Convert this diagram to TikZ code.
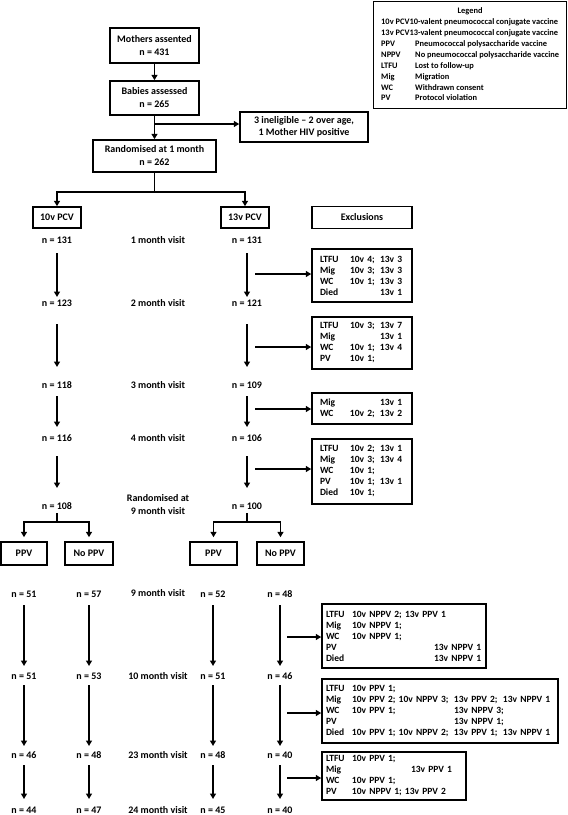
\documentclass[tikz,border=0pt]{standalone}
\usepackage{fontspec}
\setmainfont{Carlito}
\usetikzlibrary{arrows.meta}
\newcommand\excol[2]{\makebox[#1][l]{#2}}
\begin{document}
\begin{tikzpicture}[x=1pt,y=-1pt,
  every node/.style={font=\bfseries\fontsize{10}{13}\selectfont},
  box/.style={draw, line width=1.5pt, inner sep=0pt, align=center},
  exbox/.style={draw, line width=1.5pt, inner ysep=0pt, align=left, font=\bfseries\fontsize{9.5}{11}\selectfont},
  lbl/.style={inner sep=0pt, align=center},
  arr/.style={line width=1.8pt, -{Triangle[length=5.5pt,width=6pt]}},
  ln/.style={line width=1.8pt},
]
\useasboundingbox (0,0) rectangle (568,815);

% legend
\node[draw, line width=1.3pt, anchor=north west, inner sep=0pt, minimum width=193pt, minimum height=107pt,
  font=\bfseries\fontsize{8.4}{10.9}\selectfont] (legend) at (373,1) {%
\begin{tabular}{@{}l@{}}
\multicolumn{1}{@{}c@{}}{Legend}\\
10v PCV10-valent pneumococcal conjugate vaccine\\
13v PCV13-valent pneumococcal conjugate vaccine\\
\excol{34pt}{PPV}Pneumococcal polysaccharide vaccine\\
\excol{34pt}{NPPV}No pneumococcal polysaccharide vaccine\\
\excol{34pt}{LTFU}Lost to follow-up\\
\excol{34pt}{Mig}Migration\\
\excol{34pt}{WC}Withdrawn consent\\
\excol{34pt}{PV}Protocol violation
\end{tabular}};

% top part
\node[box, minimum width=89pt, minimum height=35pt] (mothers) at (154.5,45.5) {Mothers assented\\n = 431};
\node[box, minimum width=89pt, minimum height=34pt] (babies) at (154.5,98) {Babies assessed\\n = 265};
\node[box, minimum width=128pt, minimum height=30pt, font=\bfseries\fontsize{10}{11.5}\selectfont] (inel) at (304,127) {3 ineligible -- 2 over age,\\1 Mother HIV positive};
\node[box, minimum width=123pt, minimum height=32pt] (rand) at (154.5,156) {Randomised at 1 month\\n = 262};

\draw[arr] (mothers) -- (babies);
\draw[arr] (babies) -- (rand);
\coordinate (brA) at (154.5,124);
\draw[arr] (brA) -- (brA -| inel.west);

\node[box, minimum width=48pt, minimum height=21pt] (pcv10) at (57,217.5) {10v PCV};
\node[box, minimum width=48pt, minimum height=21pt] (pcv13) at (245,217.5) {13v PCV};
\node[box, minimum width=100pt, minimum height=22pt] (exh) at (362,217.5) {Exclusions};

\draw[ln] (rand.south) -- ++(0,19) coordinate (rsplit);
\draw[arr] (rsplit) -| (pcv10);
\draw[arr] (rsplit) -| (pcv13);

% rows 1 - 4 months
\node[lbl] (l1) at (57,240) {n = 131};
\node[lbl] (m1) at (158,240) {1 month visit};
\node[lbl] (r1) at (247,240) {n = 131};
\node[lbl] (l2) at (57,303) {n = 123};
\node[lbl] (m2) at (158,303) {2 month visit};
\node[lbl] (r2) at (247,303) {n = 121};
\node[lbl] (l3) at (57,385) {n = 118};
\node[lbl] (m3) at (158,385) {3 month visit};
\node[lbl] (r3) at (247,385) {n = 109};
\node[lbl] (l4) at (57,438) {n = 116};
\node[lbl] (m4) at (158,438) {4 month visit};
\node[lbl] (r4) at (247,438) {n = 106};
\node[lbl] (l5) at (57,506) {n = 108};
\node[lbl] (m5) at (158,504.5) {Randomised at\\9 month visit};
\node[lbl] (r5) at (247,506) {n = 100};

\foreach \a in {l, r}{
  \draw[arr] ([yshift=-13pt]\a1.center) -- ([yshift=6pt]\a2.center);
  \draw[arr] ([yshift=-21pt]\a2.center) -- ([yshift=18pt]\a3.center);
  \draw[arr] ([yshift=-11pt]\a3.center) -- ([yshift=11pt]\a4.center);
  \draw[arr] ([yshift=-18pt]\a4.center) -- ([yshift=18pt]\a5.center);
}

% exclusion boxes 1-4
\node[exbox, minimum height=53pt, text width=84pt, inner xsep=8pt] (ex1) at (362,275.5) {%
\mbox{\excol{30pt}{LTFU}\excol{30pt}{10v 4;}13v 3}\\
\mbox{\excol{30pt}{Mig}\excol{30pt}{10v 3;}13v 3}\\
\mbox{\excol{30pt}{WC}\excol{30pt}{10v 1;}13v 3}\\
\mbox{\excol{60pt}{Died}13v 1}};
\node[exbox, minimum height=52pt, text width=84pt, inner xsep=8pt] (ex2) at (362,343) {%
\mbox{\excol{30pt}{LTFU}\excol{30pt}{10v 3;}13v 7}\\
\mbox{\excol{60pt}{Mig}13v 1}\\
\mbox{\excol{30pt}{WC}\excol{30pt}{10v 1;}13v 4}\\
\mbox{\excol{30pt}{PV}10v 1;}};
\node[exbox, minimum height=31pt, text width=84pt, inner xsep=8pt] (ex3) at (362,408.5) {%
\mbox{\excol{60pt}{Mig}13v 1}\\
\mbox{\excol{30pt}{WC}\excol{30pt}{10v 2;}13v 2}};
\node[exbox, minimum height=65pt, text width=84pt, inner xsep=8pt] (ex4) at (362,471.5) {%
\mbox{\excol{30pt}{LTFU}\excol{30pt}{10v 2;}13v 1}\\
\mbox{\excol{30pt}{Mig}\excol{30pt}{10v 3;}13v 4}\\
\mbox{\excol{30pt}{WC}10v 1;}\\
\mbox{\excol{30pt}{PV}\excol{30pt}{10v 1;}13v 1}\\
\mbox{\excol{30pt}{Died}10v 1;}};

\coordinate (sA) at (255,274);
\coordinate (sB) at (255,347);
\coordinate (sC) at (255,409);
\coordinate (sD) at (255,469);
\draw[arr] (sA) -- (sA -| ex1.west);
\draw[arr] (sB) -- (sB -| ex2.west);
\draw[arr] (sC) -- (sC -| ex3.west);
\draw[arr] (sD) -- (sD -| ex4.west);

% randomisation at 9 months
\node[box, minimum width=46pt, minimum height=23pt] (ppvA) at (24,553.5) {PPV};
\node[box, minimum width=48pt, minimum height=23pt] (nppvA) at (89,553.5) {No PPV};
\node[box, minimum width=47pt, minimum height=23pt] (ppvB) at (213.5,553.5) {PPV};
\node[box, minimum width=47pt, minimum height=23pt] (nppvB) at (280.5,553.5) {No PPV};

\draw[ln] ([yshift=-7pt]l5.center) -- ++(0,9) coordinate (lsplit);
\draw[ln] ([yshift=-7pt]r5.center) -- ++(0,9) coordinate (rsplit2);
\draw[arr, shorten >=4pt] (lsplit) -| (ppvA);
\draw[arr, shorten >=4pt] (lsplit) -| (nppvA);
\draw[arr, shorten >=4pt] (rsplit2) -| (ppvB);
\draw[arr, shorten >=4pt] (rsplit2) -| (nppvB);

% bottom rows
\node[lbl] (a1) at (24,594) {n = 51};
\node[lbl] (b1) at (89,594) {n = 57};
\node[lbl] (v1) at (158,593) {9 month visit};
\node[lbl] (c1) at (213,594) {n = 52};
\node[lbl] (d1) at (280,594) {n = 48};
\node[lbl] (a2) at (24,676) {n = 51};
\node[lbl] (b2) at (89,676) {n = 53};
\node[lbl] (v2) at (158,676) {10 month visit};
\node[lbl] (c2) at (213,676) {n = 51};
\node[lbl] (d2) at (280,676) {n = 46};
\node[lbl] (a3) at (24,755) {n = 46};
\node[lbl] (b3) at (89,755) {n = 48};
\node[lbl] (v3) at (158,755) {23 month visit};
\node[lbl] (c3) at (213,755) {n = 48};
\node[lbl] (d3) at (280,755) {n = 40};
\node[lbl] (a4) at (24,810) {n = 44};
\node[lbl] (b4) at (89,810) {n = 47};
\node[lbl] (v4) at (158,810) {24 month visit};
\node[lbl] (c4) at (213,810) {n = 45};
\node[lbl] (d4) at (280,810) {n = 40};

\foreach \k in {a,b,c,d}{
  \draw[arr] ([yshift=-11pt]\k1.center) -- ([yshift=10pt]\k2.center);
  \draw[arr] ([yshift=-9pt]\k2.center) -- ([yshift=9pt]\k3.center);
  \draw[arr] ([yshift=-10pt]\k3.center) -- ([yshift=11pt]\k4.center);
}

% exclusion boxes 5-7
\node[exbox, minimum height=64pt, text width=156pt, inner xsep=4pt] (ex5) at (404,636) {%
\mbox{\excol{26pt}{LTFU}10v NPPV 2; 13v PPV 1}\\
\mbox{\excol{26pt}{Mig}10v NPPV 1;}\\
\mbox{\excol{26pt}{WC}10v NPPV 1;}\\
\mbox{\excol{26pt}{PV}\excol{82pt}{}13v NPPV 1}\\
\mbox{\excol{26pt}{Died}\excol{82pt}{}13v NPPV 1}};
\node[exbox, minimum height=64pt, text width=228pt, inner xsep=4pt] (ex6) at (440,711) {%
\mbox{\excol{26pt}{LTFU}10v PPV 1;}\\
\mbox{\excol{26pt}{Mig}\excol{102pt}{10v PPV 2; 10v NPPV 3;}\excol{49pt}{13v PPV 2;}13v NPPV 1}\\
\mbox{\excol{26pt}{WC}\excol{102pt}{10v PPV 1;}13v NPPV 3;}\\
\mbox{\excol{26pt}{PV}\excol{102pt}{}13v NPPV 1;}\\
\mbox{\excol{26pt}{Died}\excol{102pt}{10v PPV 1; 10v NPPV 2;}\excol{49pt}{13v PPV 1;}13v NPPV 1}};
\node[exbox, minimum height=48pt, text width=136pt, inner xsep=4pt] (ex7) at (394,776) {%
\mbox{\excol{26pt}{LTFU}10v PPV 1;}\\
\mbox{\excol{26pt}{Mig}\excol{59pt}{}13v PPV 1}\\
\mbox{\excol{26pt}{WC}10v PPV 1;}\\
\mbox{\excol{26pt}{PV}10v NPPV 1; 13v PPV 2}};

\coordinate (sE) at (287,637);
\coordinate (sF) at (287,713);
\coordinate (sG) at (287,778);
\draw[arr] (sE) -- (sE -| ex5.west);
\draw[arr] (sF) -- (sF -| ex6.west);
\draw[arr] (sG) -- (sG -| ex7.west);
\end{tikzpicture}
\end{document}
